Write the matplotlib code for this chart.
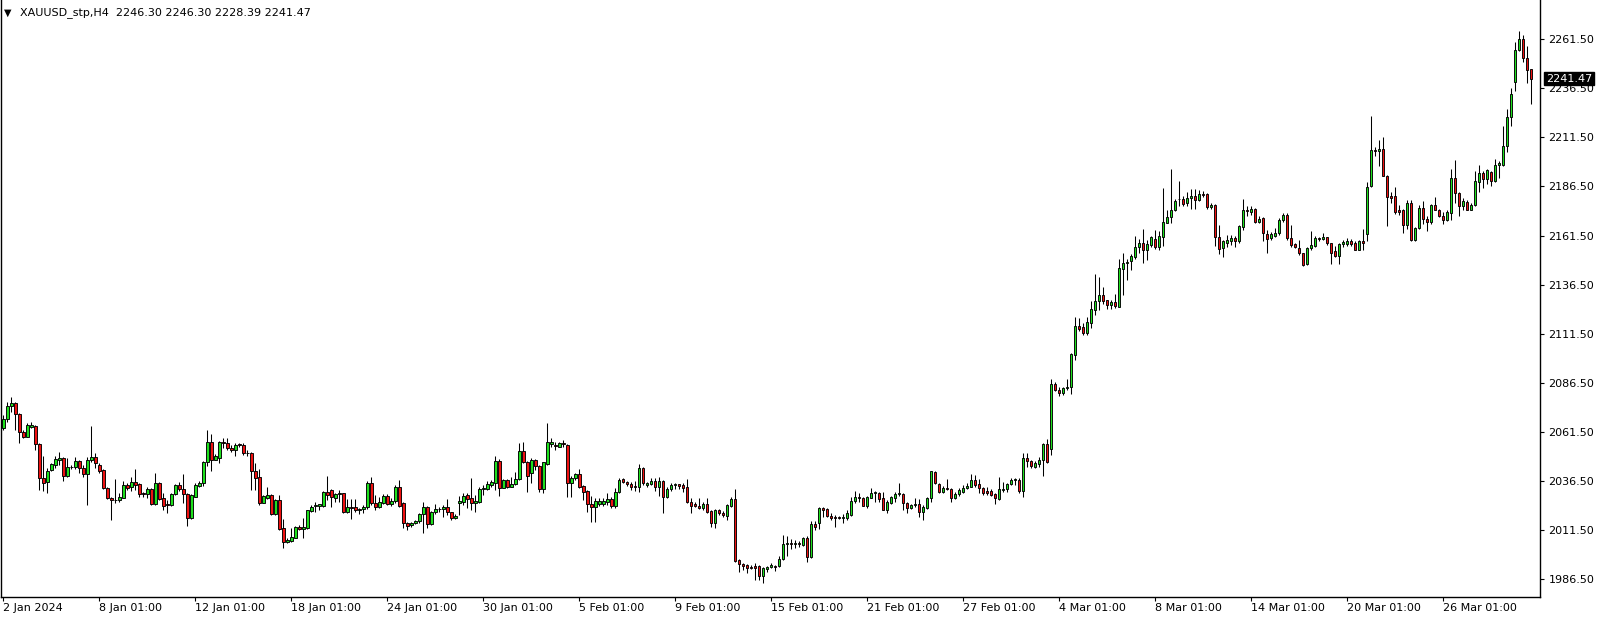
import numpy as np
import matplotlib.pyplot as plt

# XAUUSD H4 bars, 2 Jan 2024 .. 1 Apr 2024
opens = [
    2063.2, 2067.8, 2074.6, 2076.0, 2070.6, 2061.2, 2059.0, 2064.1, 2064.4, 2055.3,
    2037.7, 2035.7, 2041.7, 2044.7, 2047.1, 2047.9, 2039.1, 2043.3, 2043.4, 2046.6,
    2042.7, 2040.0, 2046.9, 2048.5, 2044.5, 2041.7, 2033.0, 2027.9, 2026.5, 2026.5,
    2027.9, 2034.2, 2033.2, 2035.9, 2034.9, 2030.4, 2029.9, 2032.3, 2024.5, 2035.4,
    2027.6, 2024.6, 2024.3, 2029.6, 2034.2, 2032.3, 2029.8, 2017.4, 2028.4, 2034.0,
    2035.2, 2045.9, 2056.1, 2047.1, 2047.9, 2056.4, 2055.6, 2053.1, 2051.9, 2055.1,
    2054.8, 2050.8, 2050.8, 2041.5, 2038.3, 2025.3, 2027.9, 2029.2, 2019.4, 2026.7,
    2012.3, 2005.1, 2005.8, 2007.5, 2013.1, 2011.7, 2012.3, 2021.1, 2023.6, 2023.8,
    2023.8, 2030.9, 2031.8, 2027.9, 2029.6, 2030.1, 2020.7, 2023.0, 2022.9, 2021.5,
    2021.9, 2022.9, 2035.2, 2025.3, 2023.0, 2025.3, 2028.9, 2024.5, 2025.9, 2033.2,
    2025.0, 2015.1, 2013.9, 2015.0, 2015.8, 2019.4, 2023.3, 2014.3, 2020.4, 2021.9,
    2021.9, 2023.3, 2020.4, 2017.4, 2025.3, 2025.8, 2029.2, 2027.5, 2025.0, 2025.8,
    2032.1, 2032.1, 2034.3, 2035.5, 2046.6, 2033.0, 2036.9, 2033.5, 2034.7, 2037.2,
    2051.7, 2045.9, 2040.3, 2047.1, 2044.2, 2032.1, 2045.1, 2055.1, 2054.8, 2053.9,
    2055.6, 2054.7, 2035.2, 2037.6, 2039.7, 2033.8, 2031.2, 2024.4, 2023.2, 2024.6,
    2024.8, 2025.8, 2027.2, 2023.6, 2030.6, 2037.2, 2036.0, 2034.6, 2033.8, 2033.5,
    2042.8, 2034.5, 2035.0, 2036.3, 2033.1, 2036.3, 2028.4, 2032.1, 2034.4, 2034.6,
    2034.3, 2033.3, 2025.5, 2024.6, 2023.6, 2022.4, 2024.6, 2021.0, 2015.1, 2021.4,
    2019.9, 2018.7, 2023.8, 2027.2, 1996.1, 1993.8, 1993.5, 1992.6, 1993.0, 1993.0,
    1987.9, 1991.3, 1992.4, 1993.1, 1993.0, 1996.4, 2004.0, 2004.6, 2004.2, 2004.6,
    2003.8, 2007.2, 1997.8, 2014.5, 2014.8, 2022.4, 2022.0, 2018.7, 2017.9, 2017.9,
    2017.7, 2017.7, 2019.1, 2025.9, 2028.1, 2027.5, 2023.8, 2027.9, 2030.1, 2030.1,
    2027.5, 2021.6, 2025.3, 2027.9, 2029.6, 2029.8, 2025.0, 2022.8, 2024.1, 2024.5,
    2020.7, 2022.8, 2027.5, 2040.8, 2034.9, 2030.9, 2033.0, 2032.3, 2027.5, 2029.8,
    2030.9, 2032.6, 2033.5, 2036.9, 2034.9, 2032.6, 2031.3, 2031.3, 2029.6, 2027.2,
    2031.5, 2032.3, 2034.9, 2036.6, 2036.9, 2031.0, 2047.9, 2046.6, 2043.7, 2045.1,
    2046.8, 2055.1, 2052.5, 2085.9, 2082.8, 2081.4, 2083.5, 2084.2, 2100.8, 2115.4,
    2115.1, 2112.0, 2117.1, 2123.6, 2127.9, 2131.2, 2128.4, 2126.2, 2127.7, 2125.3,
    2144.5, 2147.4, 2148.6, 2150.8, 2155.4, 2157.6, 2153.9, 2156.8, 2159.8, 2155.4,
    2161.0, 2168.1, 2170.7, 2174.3, 2179.9, 2180.2, 2178.0, 2180.4, 2181.7, 2179.4,
    2182.8, 2182.8, 2175.8, 2177.1, 2160.7, 2155.0, 2157.6, 2158.5, 2160.2, 2158.5,
    2166.1, 2174.6, 2173.7, 2175.1, 2168.6, 2170.3, 2162.4, 2160.0, 2161.5, 2162.7,
    2169.2, 2172.0, 2160.2, 2157.1, 2155.0, 2152.5, 2146.9, 2155.0, 2156.4, 2160.2,
    2159.9, 2160.6, 2157.6, 2153.7, 2151.3, 2157.3, 2157.3, 2158.8, 2157.6, 2154.3,
    2158.5, 2162.2, 2186.6, 2205.3, 2204.8, 2205.6, 2192.0, 2181.4, 2181.8, 2174.6,
    2174.6, 2166.8, 2178.0, 2159.0, 2165.3, 2175.5, 2169.9, 2168.2, 2177.2, 2174.6,
    2171.6, 2169.2, 2173.0, 2190.8, 2183.2, 2176.7, 2178.6, 2174.6, 2176.9, 2188.8,
    2193.4, 2190.3, 2193.8, 2189.1, 2197.6, 2197.6, 2207.3, 2221.9, 2239.6, 2256.2,
    2261.7, 2252.0, 2246.3]

highs = [
    2070.0, 2076.8, 2079.1, 2076.7, 2071.2, 2062.4, 2065.8, 2066.3, 2064.8, 2055.6,
    2049.1, 2042.8, 2045.4, 2049.1, 2051.3, 2048.8, 2047.9, 2044.5, 2048.5, 2047.1,
    2044.5, 2048.5, 2064.4, 2050.8, 2045.4, 2042.3, 2033.5, 2028.4, 2037.4, 2030.1,
    2036.1, 2035.5, 2038.6, 2042.3, 2035.2, 2030.9, 2033.2, 2032.6, 2040.3, 2035.9,
    2030.1, 2026.7, 2030.1, 2034.9, 2035.9, 2039.8, 2030.1, 2029.6, 2035.5, 2036.4,
    2046.6, 2062.4, 2060.2, 2050.0, 2056.8, 2058.5, 2058.5, 2054.7, 2055.9, 2055.6,
    2055.6, 2052.2, 2051.3, 2045.7, 2042.3, 2029.2, 2033.2, 2029.6, 2027.0, 2029.2,
    2016.8, 2007.5, 2012.6, 2013.4, 2013.9, 2017.7, 2021.6, 2024.2, 2025.5, 2024.5,
    2031.3, 2039.0, 2032.1, 2030.4, 2031.8, 2030.4, 2027.0, 2027.0, 2027.0, 2022.5,
    2024.2, 2036.4, 2038.3, 2029.2, 2028.1, 2029.8, 2029.6, 2027.5, 2034.3, 2036.9,
    2025.5, 2015.6, 2015.6, 2016.5, 2019.9, 2025.5, 2023.6, 2021.1, 2024.7, 2023.3,
    2024.2, 2027.2, 2020.7, 2019.4, 2028.7, 2030.1, 2030.1, 2037.7, 2029.2, 2033.2,
    2034.3, 2036.4, 2036.9, 2049.1, 2047.4, 2037.4, 2037.4, 2038.3, 2041.1, 2055.9,
    2056.4, 2046.6, 2048.0, 2047.4, 2044.5, 2046.2, 2066.1, 2058.1, 2056.4, 2056.1,
    2057.3, 2055.1, 2038.9, 2040.3, 2042.5, 2034.3, 2031.7, 2028.9, 2027.8, 2027.8,
    2027.5, 2030.1, 2028.4, 2032.9, 2037.7, 2037.7, 2036.3, 2035.7, 2036.3, 2045.0,
    2043.5, 2036.0, 2037.7, 2037.7, 2038.5, 2036.9, 2033.5, 2035.1, 2035.5, 2034.8,
    2035.1, 2037.4, 2027.5, 2025.5, 2027.5, 2025.8, 2027.8, 2021.6, 2022.1, 2021.9,
    2021.0, 2024.6, 2028.4, 2032.3, 1996.4, 1994.4, 1994.0, 1993.5, 1994.4, 1993.5,
    1992.6, 1993.2, 1994.4, 1993.6, 1998.1, 2008.9, 2008.3, 2006.6, 2006.3, 2005.5,
    2007.7, 2008.3, 2015.7, 2015.7, 2023.3, 2023.3, 2022.4, 2019.9, 2019.1, 2018.5,
    2019.6, 2021.3, 2028.4, 2031.3, 2030.4, 2028.4, 2028.7, 2032.6, 2031.4, 2030.9,
    2030.9, 2026.7, 2028.7, 2030.9, 2035.5, 2030.4, 2025.8, 2024.5, 2027.9, 2027.0,
    2024.2, 2028.4, 2041.5, 2041.2, 2035.5, 2033.8, 2037.4, 2032.6, 2030.9, 2032.6,
    2034.4, 2035.2, 2040.0, 2039.5, 2037.3, 2033.5, 2033.5, 2032.1, 2030.1, 2038.6,
    2035.7, 2035.5, 2037.7, 2037.7, 2037.7, 2050.5, 2050.8, 2047.1, 2046.3, 2048.5,
    2055.6, 2057.6, 2088.4, 2086.7, 2084.2, 2084.5, 2088.4, 2101.8, 2120.2, 2119.3,
    2117.1, 2120.2, 2127.9, 2142.0, 2140.1, 2135.0, 2128.7, 2128.4, 2131.8, 2149.4,
    2152.8, 2149.4, 2152.2, 2161.3, 2159.6, 2164.7, 2159.3, 2161.3, 2164.1, 2163.9,
    2185.6, 2174.6, 2195.5, 2180.0, 2189.4, 2181.7, 2183.6, 2185.1, 2185.1, 2184.8,
    2184.0, 2183.1, 2178.0, 2177.5, 2167.0, 2159.3, 2161.9, 2161.9, 2161.3, 2166.9,
    2180.0, 2176.3, 2176.8, 2175.5, 2171.2, 2170.9, 2164.4, 2163.5, 2165.2, 2170.3,
    2173.2, 2172.9, 2166.9, 2157.6, 2159.3, 2152.8, 2155.6, 2163.9, 2161.3, 2161.0,
    2162.7, 2161.0, 2157.9, 2156.2, 2157.6, 2159.3, 2160.2, 2159.7, 2158.5, 2159.0,
    2164.8, 2188.8, 2222.3, 2206.6, 2210.3, 2211.7, 2192.5, 2183.5, 2186.2, 2177.2,
    2175.0, 2179.8, 2179.8, 2165.8, 2177.2, 2178.9, 2171.2, 2177.7, 2181.1, 2175.0,
    2173.3, 2174.3, 2195.4, 2199.8, 2183.5, 2180.6, 2179.8, 2178.1, 2194.2, 2197.6,
    2194.2, 2195.4, 2194.2, 2200.5, 2199.3, 2217.5, 2226.0, 2236.7, 2260.0, 2265.9,
    2263.9, 2258.3, 2246.3]

lows = [
    2062.4, 2066.6, 2071.7, 2062.1, 2055.9, 2058.1, 2058.7, 2063.2, 2052.2, 2031.8,
    2031.0, 2030.4, 2041.2, 2042.8, 2044.5, 2036.1, 2038.6, 2042.3, 2042.3, 2040.6,
    2038.3, 2024.2, 2046.2, 2042.8, 2040.6, 2032.1, 2027.0, 2016.5, 2025.3, 2025.8,
    2027.6, 2031.8, 2031.3, 2031.8, 2028.4, 2028.4, 2027.6, 2024.2, 2024.2, 2026.4,
    2021.6, 2020.2, 2023.6, 2029.1, 2031.0, 2025.3, 2013.6, 2016.8, 2028.1, 2033.2,
    2034.0, 2044.2, 2041.5, 2046.8, 2045.7, 2053.1, 2051.9, 2051.0, 2049.3, 2053.9,
    2049.6, 2049.3, 2031.5, 2031.5, 2024.2, 2025.0, 2027.0, 2019.0, 2019.0, 2011.4,
    2002.1, 2004.6, 2005.4, 2007.1, 2011.4, 2007.1, 2011.7, 2020.7, 2020.7, 2021.6,
    2023.3, 2026.7, 2023.3, 2025.8, 2025.8, 2019.9, 2020.2, 2016.8, 2020.7, 2019.6,
    2019.9, 2021.9, 2024.2, 2021.6, 2022.4, 2024.7, 2024.0, 2023.6, 2025.0, 2023.3,
    2012.2, 2011.1, 2013.1, 2014.5, 2015.1, 2009.7, 2012.6, 2013.8, 2019.6, 2020.7,
    2018.2, 2019.1, 2016.5, 2016.8, 2019.1, 2024.2, 2022.4, 2021.6, 2020.7, 2025.3,
    2029.2, 2031.5, 2033.2, 2031.5, 2028.7, 2032.6, 2033.0, 2033.2, 2034.3, 2036.9,
    2045.4, 2030.9, 2035.2, 2042.0, 2030.9, 2030.1, 2044.5, 2053.9, 2052.2, 2053.6,
    2053.9, 2028.1, 2028.4, 2036.9, 2033.0, 2026.6, 2020.7, 2015.3, 2015.6, 2023.8,
    2023.8, 2024.1, 2022.7, 2022.7, 2030.1, 2035.1, 2034.0, 2031.7, 2031.4, 2030.6,
    2034.3, 2033.5, 2034.3, 2031.2, 2028.9, 2020.2, 2027.5, 2031.4, 2032.1, 2032.1,
    2030.9, 2025.0, 2020.2, 2023.2, 2022.1, 2021.6, 2019.8, 2013.1, 2012.2, 2019.0,
    2018.2, 2016.5, 2023.2, 1995.2, 1990.1, 1990.9, 1989.3, 1991.5, 1985.9, 1985.9,
    1984.2, 1990.1, 1991.9, 1990.2, 1992.7, 1995.8, 1998.1, 2001.5, 2002.4, 2002.9,
    2003.2, 1995.2, 1997.3, 2011.1, 2012.1, 2018.2, 2017.9, 2016.2, 2013.1, 2017.0,
    2015.1, 2016.5, 2018.5, 2025.0, 2025.8, 2023.6, 2022.8, 2027.5, 2025.8, 2025.8,
    2021.3, 2020.2, 2024.7, 2025.5, 2028.7, 2021.6, 2019.9, 2022.1, 2023.3, 2018.2,
    2016.2, 2022.1, 2025.8, 2034.9, 2030.1, 2030.4, 2031.5, 2025.8, 2027.0, 2028.7,
    2030.1, 2032.1, 2033.2, 2033.5, 2030.1, 2029.1, 2029.1, 2028.7, 2024.7, 2026.7,
    2030.6, 2030.6, 2034.4, 2034.4, 2030.4, 2028.1, 2043.4, 2042.9, 2042.9, 2043.4,
    2039.1, 2045.7, 2049.6, 2082.3, 2079.7, 2080.4, 2082.5, 2080.7, 2097.8, 2112.6,
    2110.7, 2110.9, 2114.3, 2121.1, 2123.6, 2126.7, 2123.9, 2123.9, 2124.5, 2124.9,
    2131.3, 2138.9, 2144.0, 2149.4, 2152.5, 2147.7, 2149.1, 2155.9, 2154.5, 2154.2,
    2156.2, 2167.8, 2167.8, 2173.8, 2176.8, 2176.8, 2176.8, 2175.1, 2174.9, 2178.9,
    2181.1, 2174.9, 2174.9, 2156.2, 2152.2, 2150.5, 2155.6, 2156.7, 2155.9, 2157.9,
    2164.1, 2171.5, 2172.0, 2168.1, 2167.8, 2158.5, 2152.8, 2159.3, 2160.7, 2161.9,
    2168.6, 2159.3, 2155.9, 2155.0, 2151.6, 2146.0, 2146.5, 2154.2, 2155.6, 2158.5,
    2159.0, 2156.7, 2147.1, 2150.8, 2147.1, 2155.6, 2156.0, 2156.3, 2154.0, 2154.0,
    2154.3, 2158.5, 2186.2, 2201.9, 2196.7, 2191.6, 2166.2, 2178.1, 2172.6, 2172.1,
    2162.8, 2164.8, 2158.5, 2158.5, 2164.8, 2167.5, 2163.6, 2167.5, 2174.3, 2170.9,
    2167.5, 2168.7, 2169.6, 2178.1, 2171.6, 2174.6, 2174.3, 2174.3, 2176.4, 2183.5,
    2185.7, 2187.9, 2186.9, 2188.6, 2190.8, 2196.7, 2203.9, 2217.5, 2235.0, 2255.4,
    2249.8, 2239.2, 2228.39]

closes = [
    2067.8, 2074.6, 2076.0, 2070.4, 2061.2, 2059.0, 2064.9, 2064.8, 2055.1, 2037.6,
    2035.5, 2041.5, 2044.9, 2047.4, 2047.9, 2039.1, 2043.4, 2043.6, 2046.6, 2042.8,
    2040.0, 2047.1, 2048.5, 2045.4, 2041.2, 2033.0, 2027.6, 2026.5, 2026.4, 2028.2,
    2034.2, 2032.8, 2035.9, 2034.5, 2029.6, 2029.6, 2032.3, 2024.7, 2035.4, 2027.0,
    2023.8, 2024.3, 2029.6, 2034.2, 2032.1, 2029.9, 2017.4, 2029.3, 2034.2, 2035.2,
    2045.9, 2056.1, 2047.1, 2049.1, 2056.4, 2055.6, 2053.1, 2051.9, 2054.6, 2054.8,
    2050.8, 2050.5, 2041.2, 2038.1, 2025.3, 2028.7, 2029.2, 2019.4, 2026.4, 2011.9,
    2005.1, 2006.3, 2007.7, 2013.1, 2011.7, 2013.1, 2021.3, 2023.3, 2024.2, 2024.5,
    2030.9, 2029.2, 2028.1, 2029.6, 2030.1, 2020.7, 2023.0, 2022.7, 2021.3, 2021.8,
    2022.9, 2035.2, 2025.3, 2023.3, 2025.5, 2028.7, 2024.5, 2026.2, 2033.2, 2023.6,
    2015.1, 2013.4, 2015.1, 2015.8, 2019.4, 2023.3, 2014.3, 2020.7, 2021.9, 2022.1,
    2023.3, 2020.4, 2017.4, 2018.5, 2026.0, 2028.9, 2027.2, 2025.0, 2026.2, 2032.1,
    2032.6, 2034.9, 2035.9, 2046.6, 2033.0, 2036.9, 2033.5, 2034.9, 2037.2, 2051.7,
    2045.9, 2039.1, 2047.1, 2044.0, 2032.1, 2045.9, 2056.1, 2056.1, 2054.3, 2055.6,
    2055.3, 2035.2, 2037.7, 2039.8, 2033.5, 2030.9, 2024.4, 2023.2, 2026.1, 2026.1,
    2026.1, 2027.2, 2023.6, 2030.6, 2036.9, 2036.0, 2034.6, 2033.3, 2033.5, 2042.8,
    2035.1, 2035.3, 2036.3, 2033.5, 2036.3, 2028.4, 2032.3, 2034.3, 2034.6, 2034.0,
    2032.9, 2025.5, 2023.8, 2023.8, 2022.4, 2024.6, 2020.7, 2015.1, 2021.4, 2019.9,
    2019.0, 2024.1, 2027.2, 1995.7, 1993.8, 1993.2, 1992.1, 1992.1, 1992.1, 1987.9,
    1991.8, 1992.6, 1993.6, 1992.7, 1996.6, 2004.3, 2004.6, 2004.0, 2004.6, 2004.0,
    2007.2, 1997.8, 2014.5, 2013.1, 2022.4, 2021.3, 2018.5, 2017.2, 2017.2, 2017.7,
    2018.2, 2020.2, 2026.2, 2028.1, 2027.4, 2023.8, 2028.1, 2030.1, 2030.6, 2027.2,
    2021.6, 2025.5, 2028.1, 2029.6, 2030.1, 2025.0, 2022.8, 2024.1, 2024.6, 2020.7,
    2023.0, 2027.5, 2041.2, 2035.5, 2030.9, 2033.0, 2032.1, 2027.5, 2029.8, 2031.8,
    2032.9, 2033.8, 2036.9, 2034.4, 2032.6, 2030.4, 2030.4, 2029.3, 2027.6, 2032.1,
    2032.3, 2034.9, 2036.9, 2037.3, 2031.0, 2047.9, 2046.3, 2044.2, 2045.4, 2047.1,
    2055.1, 2046.1, 2085.9, 2082.8, 2081.4, 2083.8, 2084.5, 2101.2, 2115.4, 2113.9,
    2112.0, 2117.3, 2123.9, 2128.2, 2131.2, 2127.9, 2126.2, 2127.7, 2125.6, 2144.8,
    2147.4, 2148.2, 2151.1, 2155.6, 2157.6, 2153.9, 2157.1, 2160.5, 2155.6, 2161.3,
    2168.3, 2170.9, 2174.6, 2178.9, 2180.3, 2177.7, 2180.5, 2181.7, 2179.4, 2182.8,
    2182.1, 2175.8, 2177.1, 2160.7, 2154.7, 2158.5, 2159.0, 2160.2, 2158.5, 2166.4,
    2174.6, 2173.9, 2175.1, 2168.6, 2169.8, 2162.7, 2159.8, 2162.4, 2163.0, 2169.5,
    2172.0, 2160.0, 2156.8, 2155.9, 2152.5, 2146.5, 2155.0, 2156.7, 2160.2, 2159.6,
    2160.6, 2157.6, 2152.8, 2151.3, 2157.3, 2158.0, 2158.8, 2157.3, 2154.3, 2158.5,
    2157.8, 2186.2, 2205.3, 2204.8, 2205.6, 2192.0, 2181.1, 2180.6, 2173.3, 2173.3,
    2166.8, 2178.0, 2159.0, 2165.3, 2175.5, 2169.9, 2168.2, 2177.2, 2174.6, 2171.6,
    2169.2, 2173.3, 2190.8, 2183.2, 2176.7, 2178.9, 2174.6, 2177.2, 2189.1, 2193.4,
    2190.3, 2195.0, 2189.1, 2197.6, 2198.7, 2206.9, 2221.9, 2233.8, 2256.2, 2261.7,
    2252.0, 2246.0, 2241.47]

date_labels = ["2 Jan 2024", "8 Jan 01:00", "12 Jan 01:00", "18 Jan 01:00",
               "24 Jan 01:00", "30 Jan 01:00", "5 Feb 01:00", "9 Feb 01:00",
               "15 Feb 01:00", "21 Feb 01:00", "27 Feb 01:00", "4 Mar 01:00",
               "8 Mar 01:00", "14 Mar 01:00", "20 Mar 01:00", "26 Mar 01:00"]
price_ticks = [1986.5, 2011.5, 2036.5, 2061.5, 2086.5, 2111.5, 2136.5,
               2161.5, 2186.5, 2211.5, 2236.5, 2261.5]

o = np.array(opens)
h = np.array(highs)
l = np.array(lows)
c = np.array(closes)
x = np.arange(len(c))
up = c >= o
dn = ~up

W, H = 1604, 621
fig = plt.figure(figsize=(W / 100, H / 100), dpi=100)
fig.patch.set_facecolor("white")
# plot box: x 1..1540 px, y 0..597 px
ax = fig.add_axes([1 / W, (H - 597) / H, 1539 / W, 597 / H])
ax.set_facecolor("white")

ax.vlines(x, l, h, color="black", linewidth=0.75, zorder=1)
ax.bar(x[up], (c - o)[up], bottom=o[up], width=0.62, color="#1ee01e",
       edgecolor="black", linewidth=0.65, zorder=2)
ax.bar(x[dn], (c - o)[dn], bottom=o[dn], width=0.62, color="#ee1111",
       edgecolor="black", linewidth=0.65, zorder=2)

ax.set_xlim(-0.575, 384.2)
ax.set_ylim(1977.17, 2281.6)

for s in ["left", "right", "bottom"]:
    ax.spines[s].set_color("black")
    ax.spines[s].set_linewidth(1.0)
ax.spines["top"].set_visible(False)

ax.yaxis.tick_right()
ax.set_yticks(price_ticks)
ax.set_yticklabels([f"{v:.2f}" for v in price_ticks])
ax.tick_params(axis="y", length=3, width=0.8, pad=3, labelsize=8,
               colors="black", direction="out")

ax.set_xticks(np.arange(0, 24 * len(date_labels), 24))
ax.set_xticklabels(date_labels, ha="left")
ax.tick_params(axis="x", length=3, width=0.8, pad=1, labelsize=8,
               colors="black", direction="out")

# title line
fig.text(4 / W, 1 - 13 / H, "\u25bc", fontsize=7, va="center", ha="left")
fig.text(20 / W, 1 - 13 / H, "XAUUSD_stp,H4  2246.30 2246.30 2228.39 2241.47",
         fontsize=8, va="center", ha="left")

# current price tag
ax.text(1 + 6 / 1539, closes[-1], f"{closes[-1]:.2f}",
        transform=ax.get_yaxis_transform(), fontsize=8, color="white",
        va="center", ha="left", clip_on=False, zorder=5,
        bbox=dict(boxstyle="square,pad=0.15", facecolor="black", edgecolor="black"))

fig.savefig("out.png", dpi=100)
